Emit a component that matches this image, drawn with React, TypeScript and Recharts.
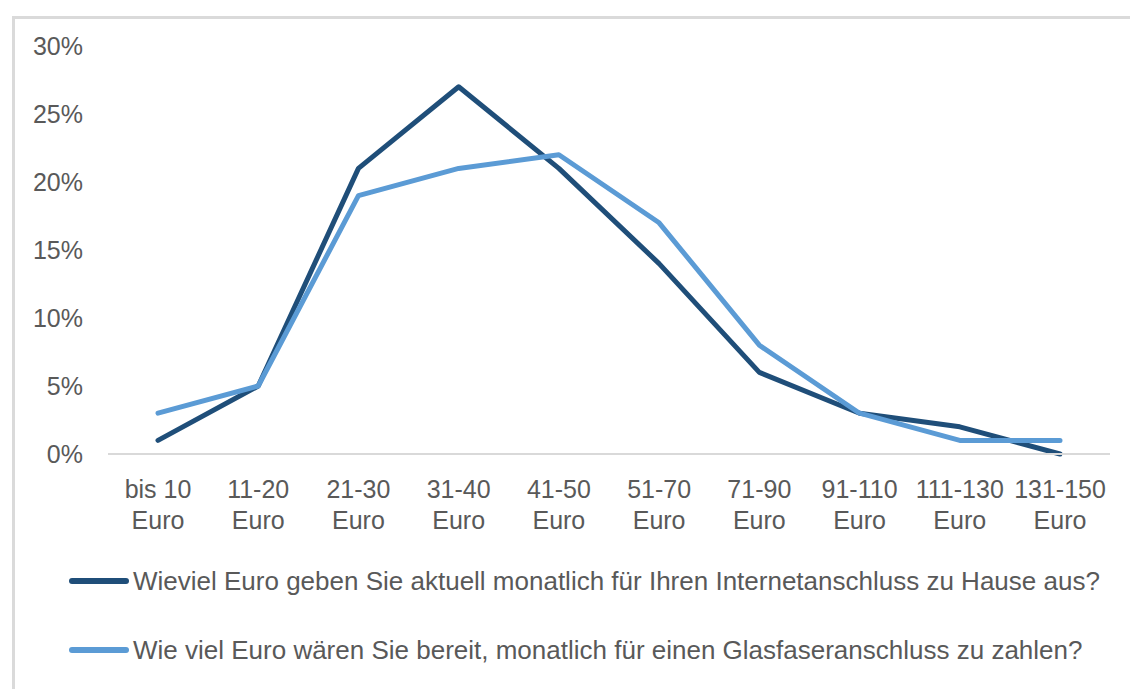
import { LineChart, Line, XAxis, YAxis, Legend } from "recharts";

const categories = [
  "bis 10 Euro",
  "11-20 Euro",
  "21-30 Euro",
  "31-40 Euro",
  "41-50 Euro",
  "51-70 Euro",
  "71-90 Euro",
  "91-110 Euro",
  "111-130 Euro",
  "131-150 Euro",
];
const aktuell = [1, 5, 21, 27, 21, 14, 6, 3, 2, 0];
const bereit = [3, 5, 19, 21, 22, 17, 8, 3, 1, 1];
const yTicks = [0, 5, 10, 15, 20, 25, 30];

const nameAktuell =
  "Wieviel Euro geben Sie aktuell monatlich für Ihren Internetanschluss zu Hause aus?";
const nameBereit =
  "Wie viel Euro wären Sie bereit, monatlich für einen Glasfaseranschluss zu zahlen?";
const legendOrder = [nameAktuell, nameBereit];

const data = categories.map((c, i) => ({ cat: c, aktuell: aktuell[i], bereit: bereit[i] }));

const FONT = '"Liberation Sans", Arial, sans-serif';
const TEXT = "#595959";

function CatTick(props: any) {
  const { x, y, payload } = props;
  const label: string = payload.value;
  const cut = label.lastIndexOf(" ");
  const top = label.slice(0, cut);
  const bottom = label.slice(cut + 1);
  return (
    <text x={x} y={y} textAnchor="middle" fill={TEXT} fontSize={25} fontFamily={FONT}>
      <tspan x={x} dy={36}>{top}</tspan>
      <tspan x={x} dy={31}>{bottom}</tspan>
    </text>
  );
}

function LegendRows(props: any) {
  const items = [...(props.payload || [])].sort(
    (a: any, b: any) => legendOrder.indexOf(a.value) - legendOrder.indexOf(b.value)
  );
  return (
    <div style={{ position: "relative", height: 150, fontFamily: FONT }}>
      {items.map((it: any, i: number) => {
        const cy = 42 + i * 69;
        return (
          <div key={it.value}>
            <div
              style={{
                position: "absolute",
                left: 69,
                top: cy - 3,
                width: 60,
                height: 6,
                borderRadius: 3,
                background: it.color,
              }}
            />
            <span
              style={{
                position: "absolute",
                left: 133,
                top: cy - 15,
                fontSize: 26,
                lineHeight: "30px",
                color: TEXT,
                whiteSpace: "nowrap",
              }}
            >
              {it.value}
            </span>
          </div>
        );
      })}
    </div>
  );
}

export default function App() {
  return (
    <div style={{ position: "absolute", left: 0, top: 0, width: 1130, height: 689, background: "#fff", overflow: "hidden" }}>
      <div
        style={{
          position: "absolute",
          left: 12,
          top: 16,
          width: 1300,
          height: 800,
          borderLeft: "3px solid #dadada",
          borderTop: "3px solid #dadada",
        }}
      />
      <LineChart
        width={1130}
        height={689}
        data={data}
        margin={{ top: 46, right: 20, bottom: 0, left: 0 }}
        style={{ position: "absolute", left: 0, top: 0 }}
      >
        <XAxis
          dataKey="cat"
          interval={0}
          padding={{ left: 50, right: 50 }}
          height={85}
          tickLine={false}
          axisLine={{ stroke: "#d9d9d9", strokeWidth: 2 }}
          tick={<CatTick />}
        />
        <YAxis
          width={108}
          domain={[0, 30]}
          ticks={yTicks}
          axisLine={false}
          tickLine={false}
          tickSize={0}
          tickMargin={25}
          tickFormatter={(v) => `${v}%`}
          tick={{ fill: TEXT, fontSize: 25, fontFamily: FONT }}
        />
        <Legend
          verticalAlign="bottom"
          content={<LegendRows />}
          wrapperStyle={{ left: 0, width: 1130, bottom: 0 }}
        />
        <Line
          type="linear"
          dataKey="aktuell"
          name={nameAktuell}
          stroke="#1f4e79"
          strokeWidth={5}
          strokeLinecap="round"
          strokeLinejoin="round"
          dot={false}
          isAnimationActive={false}
        />
        <Line
          type="linear"
          dataKey="bereit"
          name={nameBereit}
          stroke="#5b9bd5"
          strokeWidth={5}
          strokeLinecap="round"
          strokeLinejoin="round"
          dot={false}
          isAnimationActive={false}
        />
      </LineChart>
    </div>
  );
}
